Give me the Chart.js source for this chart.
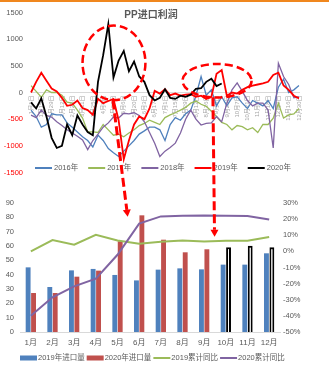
<!DOCTYPE html>
<html>
<head>
<meta charset="utf-8">
<title>PP进口利润</title>
<script src="https://cdn.jsdelivr.net/npm/chart.js@4.4.0/dist/chart.umd.min.js"></script>
<style>
    html, body { margin: 0; padding: 0; background: #fff; }
    body { width: 329px; height: 383px; position: relative; overflow: hidden; }
    #topBar { position: absolute; left: 0; top: 0; width: 329px; height: 2px; background: #f0871e; z-index: 2; }
    #profitWrap { position: absolute; left: 0; top: 0; width: 329px; height: 185px; }
    #importWrap { position: absolute; left: 0; top: 190px; width: 329px; height: 193px; }
    #marks { position: absolute; left: 0; top: 0; pointer-events: none; z-index: 3; }
</style>
</head>
<body>
<div id="topBar"></div>
<div id="profitWrap"><canvas id="profitChart" width="329" height="185"></canvas></div>
<div id="importWrap"><canvas id="importChart" width="329" height="193"></canvas></div>
<canvas id="marks" width="329" height="383"></canvas>

<script>
// ---- Data: PP import profit, weekly samples ----
const weekLabels = [
    '1月1日', '1月8日', '1月15日', '1月22日', '1月29日', '2月5日', '2月12日', '2月19日', '2月26日',
    '3月4日', '3月11日', '3月18日', '3月25日', '4月1日', '4月8日', '4月15日', '4月22日', '4月29日',
    '5月6日', '5月13日', '5月20日', '5月27日', '6月3日', '6月10日', '6月17日', '6月24日',
    '7月1日', '7月8日', '7月15日', '7月22日', '7月29日', '8月5日', '8月12日', '8月19日', '8月26日',
    '9月2日', '9月9日', '9月16日', '9月23日', '9月30日', '10月7日', '10月14日', '10月21日', '10月28日',
    '11月4日', '11月11日', '11月18日', '11月25日', '12月2日', '12月9日', '12月16日', '12月23日', '12月30日'
];

const profit2016 = [-330, -450, -650, -600, -400, -420, -420, -570, -650, -740,
    -830, -900, -1020, -800, -900, -1050, -1130, -1200, -1100, -1000,
    -900, -780, -720, -650, -650, -700, -900, -600, -470, -520,
    -400, -330, -60, 300, -50, 50, -250, -80, -250, -100,
    -80, -200, -300, -150, -200, -250, -150, -300, 100, 250,
    0, 50, 130];
const profit2017 = [130, 20, -90, 50, 0, 0, -50, -180, -200, -330,
    -480, -740, -740, -750, -600, -700, -800, -780, -830, -760,
    -700, -620, -580, -520, -560, -600, -470, -420, -380, -330,
    -280, -200, -160, -220, -260, -350, -450, -560, -600, -700,
    -620, -640, -700, -660, -750, -600, -600, -480, -200, -480,
    -420, -400, -300];
const profit2018 = [-425, -470, -330, -430, -460, -550, -620, -700, -760, -820,
    -890, -1070, -900, -780, -650, -570, -460, -480, -390, -400,
    -380, -430, -550, -750, -950, -1200, -1100, -1030, -950, -760,
    -500, -330, -500, -610, -580, -570, -450, -550, -200, 50,
    180, 20, -150, -250, -200, -200, -330, -1040, 550, 300,
    150, -100, -80];
const profit2019 = [0, 200, 370, 220, 75, 20, -100, -250, -230, -150,
    -290, -330, -420, -120, -200, -160, -120, -520, -1250, -900,
    -600, -450, -500, -300, 30, -20, 60, -50, -20, -60,
    -40, -30, -80, -60, -120, -80, 350, 420, -60, 0,
    -20, 50, 100, 130, 150, 170, 200, 330, 370, 130,
    50, -60, -110];
const profit2020 = [-185, -300, -110, -450, -850, -1040, -1000, -600, -800, -430,
    -600, -740, -800, 200, 700, 1280, 280, 600, 780, 400,
    580, 300, 200, -50, -150, -100, 60, -100, -120, -60,
    -80, -40, 70, 80, 200, 260, 120, 170, null, null,
    null, null, null, null, null, null, null, null, null, null,
    null, null, null];
const profitTicks = [-1500, -1000, -500, 0, 500, 1000, 1500];

// ---- Data: monthly import volume and YTD change ----
const months = ['1月', '2月', '3月', '4月', '5月', '6月', '7月', '8月', '9月', '10月', '11月', '12月'];
const imports2019 = [45.1, 31.4, 43, 44, 39.8, 36, 43.5, 44.4, 43.7, 47, 47, 54.9];
const imports2020 = [27.2, 27.2, 38.6, 42.8, 63.3, 81.4, 64.4, 55.6, 57.7, 59.1, 60.2, 59.1];
const ytd2019 = [0, 7.0, 4.1, 10.3, 6.8, 4.8, 6.0, 6.8, 6.2, 6.6, 6.6, 8.9];
const ytd2020 = [-39.9, -28.5, -21.7, -16.9, -2.1, 17.2, 21.7, 22.1, 22.3, 22.1, 21.9, 19.8];
const firstForecastMonth = 10;

// Callouts, in chart units
const circledSpans = [
    { week: 16.1, profit: 555, weeks: 6.1, range: 700 },
    { week: 36.1, profit: 220, weeks: 6.7, range: 315 }
];
const calloutArrows = [
    { week: 15.9, profit: -150, month: 4.47, volume: 80.4 },
    { week: 35.3, profit: -90, month: 8.48, volume: 66.5 }
];

const FONT = '"Liberation Sans", "Noto Sans CJK SC", sans-serif';
const GREY = '#595959';

// Legend (and optional title) drawn over the plot, like the spreadsheet does
const overlayLegend = {
    id: 'overlayLegend',
    afterDraw(chart, args, opts) {
        const ctx = chart.ctx;
        ctx.save();
        ctx.textBaseline = 'middle';
        ctx.textAlign = 'left';
        ctx.font = opts.font;
        let x = opts.x;
        chart.data.datasets.forEach(ds => {
            if (ds.type === 'bar') {
                const fill = Array.isArray(ds.backgroundColor) ? ds.backgroundColor[0] : ds.backgroundColor;
                ctx.fillStyle = fill;
                ctx.fillRect(x, opts.y - 2.5, opts.swatch, 5);
            } else {
                ctx.strokeStyle = ds.borderColor;
                ctx.lineWidth = 2;
                ctx.beginPath();
                ctx.moveTo(x, opts.y);
                ctx.lineTo(x + opts.swatch, opts.y);
                ctx.stroke();
            }
            x += opts.swatch + opts.textGap;
            ctx.fillStyle = GREY;
            ctx.fillText(ds.label, x, opts.y);
            x += ctx.measureText(ds.label).width + opts.itemGap;
        });
        if (opts.title) {
            ctx.font = opts.title.font;
            ctx.textAlign = 'center';
            ctx.fillStyle = GREY;
            ctx.fillText(opts.title.text, opts.title.x, opts.title.y);
        }
        ctx.restore();
    }
};

function lineSet(label, data, color, width, order) {
    return {
        label: label,
        data: data,
        borderColor: color,
        backgroundColor: color,
        borderWidth: width,
        pointRadius: 0,
        tension: 0,
        order: order
    };
}

// Profit chart
const profitChart = new Chart(document.getElementById('profitChart'), {
    type: 'line',
    data: {
        labels: weekLabels,
        datasets: [
            lineSet('2016年', profit2016, '#4F81BD', 1.3, 5),
            lineSet('2017年', profit2017, '#9BBB59', 1.3, 4),
            lineSet('2018年', profit2018, '#8064A2', 1.3, 3),
            lineSet('2019年', profit2019, '#FF0000', 1.8, 2),
            lineSet('2020年', profit2020, '#000000', 1.8, 1)
        ]
    },
    options: {
        responsive: false,
        animation: false,
        layout: { padding: { top: 11, bottom: 12, left: 0, right: 30 } },
        plugins: {
            legend: { display: false },
            tooltip: { enabled: false },
            overlayLegend: {
                x: 35, y: 168, swatch: 17, textGap: 2, itemGap: 10,
                font: '7.5px ' + FONT,
                title: { text: 'PP进口利润', x: 151, y: 15, font: 'bold 10px ' + FONT }
            }
        },
        scales: {
            x: {
                position: { y: 0 },
                grid: { display: false, drawTicks: false },
                border: { display: true, color: '#d9d9d9', width: 1 },
                afterFit: (scale) => { scale.height = 0; },
                ticks: {
                    autoSkip: false,
                    minRotation: 90,
                    maxRotation: 90,
                    padding: 3,
                    color: '#a6a6a6',
                    font: { size: 6, family: FONT },
                    callback: (val, idx) => idx % 2 === 0 ? weekLabels[idx] : ''
                }
            },
            y: {
                min: -1500,
                max: 1500,
                afterFit: (scale) => { scale.width = 31; },
                afterBuildTicks: (scale) => { scale.ticks = profitTicks.map(v => ({ value: v })); },
                grid: { display: false, drawTicks: false },
                border: { display: false },
                ticks: {
                    padding: 8,
                    font: { size: 7.5, family: FONT },
                    color: (c) => c.tick.value < 0 ? '#FF0000' : GREY,
                    callback: (v) => String(v)
                }
            }
        }
    },
    plugins: [overlayLegend]
});

// Import chart
const importChart = new Chart(document.getElementById('importChart'), {
    type: 'bar',
    data: {
        labels: months,
        datasets: [
            {
                type: 'bar', label: '2019年进口量', data: imports2019,
                backgroundColor: '#4F81BD', yAxisID: 'y', order: 2,
                categoryPercentage: 0.5, barPercentage: 0.9
            },
            {
                type: 'bar', label: '2020年进口量', data: imports2020,
                backgroundColor: months.map((m, i) => i + 1 >= firstForecastMonth ? '#FFFFFF' : '#C0504D'),
                borderColor: months.map((m, i) => i + 1 >= firstForecastMonth ? '#000000' : '#C0504D'),
                borderWidth: months.map((m, i) => i + 1 >= firstForecastMonth ? 2 : 0),
                yAxisID: 'y', order: 3,
                categoryPercentage: 0.5, barPercentage: 0.9
            },
            Object.assign(lineSet('2019累计同比', ytd2019, '#9BBB59', 2, 1), { type: 'line', yAxisID: 'y1' }),
            Object.assign(lineSet('2020累计同比', ytd2020, '#8064A2', 2, 0), { type: 'line', yAxisID: 'y1' })
        ]
    },
    options: {
        responsive: false,
        animation: false,
        layout: { padding: { top: 13, bottom: 31, left: 0, right: 0 } },
        plugins: {
            legend: { display: false },
            tooltip: { enabled: false },
            overlayLegend: {
                x: 20, y: 168, swatch: 17, textGap: 1, itemGap: 2,
                font: '7.5px ' + FONT
            }
        },
        scales: {
            x: {
                grid: { display: false, drawTicks: false },
                border: { display: true, color: '#d9d9d9' },
                afterFit: (scale) => { scale.height = 20; },
                ticks: { padding: 6, maxRotation: 0, minRotation: 0, autoSkip: false, color: GREY, font: { size: 8, family: FONT } }
            },
            y: {
                position: 'left',
                min: 0, max: 90,
                afterFit: (scale) => { scale.width = 20; },
                grid: { display: false, drawTicks: false },
                border: { display: false },
                ticks: { stepSize: 10, padding: 6, color: GREY, font: { size: 7.5, family: FONT } }
            },
            y1: {
                position: 'right',
                min: -50, max: 30,
                afterFit: (scale) => { scale.width = 49; },
                grid: { display: false, drawTicks: false },
                border: { display: false },
                ticks: {
                    stepSize: 10, padding: 3, color: GREY,
                    font: { size: 7.5, family: FONT },
                    callback: (v) => v + '%'
                }
            }
        }
    },
    plugins: [overlayLegend]
});

// Red dashed callouts spanning both charts
function drawCallouts() {
    const ctx = document.getElementById('marks').getContext('2d');
    const pr = profitChart.canvas.getBoundingClientRect();
    const ir = importChart.canvas.getBoundingClientRect();
    const px = profitChart.scales.x, py = profitChart.scales.y;
    const ix = importChart.scales.x, iy = importChart.scales.y;

    ctx.strokeStyle = '#FF0000';
    ctx.fillStyle = '#FF0000';

    circledSpans.forEach(c => {
        const cx = pr.left + px.getPixelForValue(c.week);
        const cy = pr.top + py.getPixelForValue(c.profit);
        const rx = Math.abs(px.getPixelForValue(c.week + c.weeks) - px.getPixelForValue(c.week));
        const ry = Math.abs(py.getPixelForValue(c.profit + c.range) - py.getPixelForValue(c.profit));
        ctx.save();
        ctx.lineWidth = 2.5;
        ctx.setLineDash([8, 4]);
        ctx.beginPath();
        ctx.ellipse(cx, cy, rx, ry, 0, 0, Math.PI * 2);
        ctx.stroke();
        ctx.restore();
    });

    calloutArrows.forEach(a => {
        const x0 = pr.left + px.getPixelForValue(a.week);
        const y0 = pr.top + py.getPixelForValue(a.profit);
        const x1 = ir.left + ix.getPixelForValue(a.month);
        const y1 = ir.top + iy.getPixelForValue(a.volume);
        const ang = Math.atan2(y1 - y0, x1 - x0);
        const head = 7;
        ctx.save();
        ctx.lineWidth = 3;
        ctx.setLineDash([9, 4]);
        ctx.beginPath();
        ctx.moveTo(x0, y0);
        ctx.lineTo(x1 - Math.cos(ang) * head, y1 - Math.sin(ang) * head);
        ctx.stroke();
        ctx.setLineDash([]);
        ctx.beginPath();
        ctx.moveTo(x1, y1);
        ctx.lineTo(x1 - Math.cos(ang) * head + Math.sin(ang) * 4, y1 - Math.sin(ang) * head - Math.cos(ang) * 4);
        ctx.lineTo(x1 - Math.cos(ang) * head - Math.sin(ang) * 4, y1 - Math.sin(ang) * head + Math.cos(ang) * 4);
        ctx.closePath();
        ctx.fill();
        ctx.restore();
    });
}

drawCallouts();
</script>
</body>
</html>
